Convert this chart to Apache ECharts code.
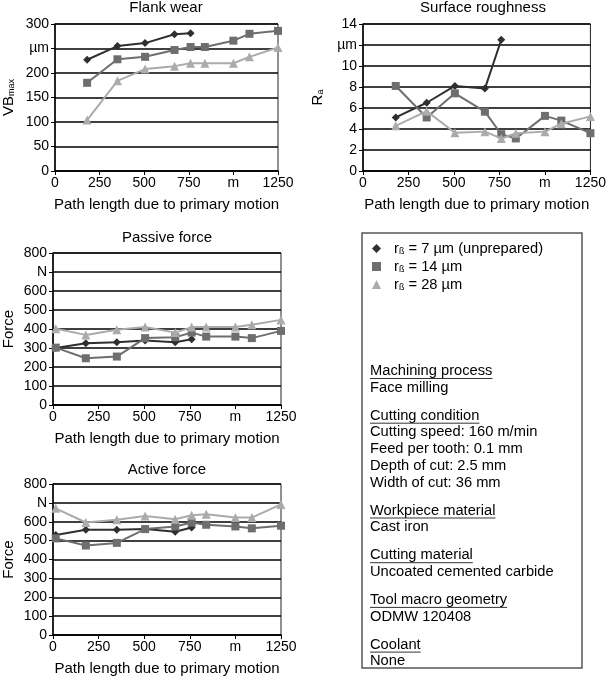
<!DOCTYPE html>
<html>
<head>
<meta charset="utf-8">
<script src="https://cdn.jsdelivr.net/npm/echarts@6/dist/echarts.min.js"></script>
<style>
  html, body { margin: 0; padding: 0; background: #fff; }
  #myChart { width: 609px; height: 677px; }
</style>
</head>
<body>
<div id="myChart"></div>
<script>
// series names (r_ß values) and tick labels
const seriesNames = ['7 µm (unprepared)', '14 µm', '28 µm']
const pathTicks = [0, 250, 500, 750, 'm', 1250]

// path length positions of the measurements
const wearX = [180, 350, 505, 670, 760, 840, 1000, 1090, 1250]
const forceX = [15, 180, 350, 505, 670, 760, 840, 1000, 1090, 1250]

// flank wear VBmax in µm
const flank7 = [227, 255, 261, 279, 281]
const flank14 = [180, 228, 233, 247, 253, 253, 266, 280, 286]
const flank28 = [104, 184, 208, 214, 220, 220, 220, 233, 252]

// surface roughness Ra in µm
const rough7 = [5.1, 6.5, 8.1, 7.85, 12.5]
const rough14 = [8.1, 5.1, 7.4, 5.65, 3.5, 3.1, 5.25, 4.8, 3.6]
const rough28 = [4.3, 5.7, 3.65, 3.75, 3.1, 3.6, 3.75, 4.5, 5.2]

// passive force in N
const passive7 = [300, 325, 330, 340, 330, 346]
const passive14 = [302, 246, 255, 352, 357, 381, 360, 360, 352, 390]
const passive28 = [401, 369, 396, 410, 381, 410, 410, 410, 422, 448]

// active force in N
const active7 = [530, 558, 558, 561, 547, 570]
const active14 = [512, 474, 488, 561, 575, 596, 584, 575, 565, 579]
const active28 = [671, 596, 610, 631, 613, 634, 640, 622, 622, 692]

// text of the info box
const infoBlocks = [
  ['Machining process', 'Face milling'],
  ['Cutting condition', 'Cutting speed: 160 m/min', 'Feed per tooth: 0.1 mm', 'Depth of cut: 2.5 mm', 'Width of cut: 36 mm'],
  ['Workpiece material', 'Cast iron'],
  ['Cutting material', 'Uncoated cemented carbide'],
  ['Tool macro geometry', 'ODMW 120408'],
  ['Coolant', 'None']
]

const FONT = '"Liberation Sans", Arial, sans-serif'
const colors = ['#2f2f2f', '#6e6e6e', '#ababab']
const symbols = ['diamond', 'rect', 'triangle']
const symbolSizes = [8, 8, 9]

const pairs = (xs, ys) => ys.map((y, i) => [xs[i], y])

const myChart = echarts.init(document.getElementById('myChart'))

// panels: grid box, y range and labels
const panels = [
  { grid: { left: 55, top: 24, width: 223, height: 147 }, max: 300, interval: 50, unitAt: 250, unit: 'µm', yName: 'VB{s|max}', nameGap: 39, x: wearX, data: [flank7, flank14, flank28] },
  { grid: { left: 363, top: 24, width: 231, height: 147 }, max: 14, interval: 2, unitAt: 12, unit: 'µm', yName: 'R{s|a}', nameGap: 38, x: wearX, data: [rough7, rough14, rough28] },
  { grid: { left: 53, top: 253, width: 228, height: 152 }, max: 800, interval: 100, unitAt: 700, unit: 'N', yName: 'Force', nameGap: 37, x: forceX, data: [passive7, passive14, passive28] },
  { grid: { left: 53, top: 484, width: 228, height: 153 }, max: 800, interval: 100, unitAt: 700, unit: 'N', yName: 'Force', nameGap: 37, x: forceX, data: [active7, active14, active28] }
]

const titles = [
  { text: 'Flank wear', left: 166, top: 0 },
  { text: 'Surface roughness', left: 483, top: 0 },
  { text: 'Passive force', left: 167, top: 230 },
  { text: 'Active force', left: 167, top: 462 }
].map(t => Object.assign(t, {
  textAlign: 'center', padding: 0,
  textStyle: { fontSize: 15, fontWeight: 'normal', color: '#000', fontFamily: FONT }
}))

const grids = panels.map(p => Object.assign({ show: true, borderColor: '#222', borderWidth: 1 }, p.grid))

const xAxes = panels.map((p, i) => ({
  type: 'value', gridIndex: i, min: 0, max: 1250, interval: 250,
  axisLine: { show: true, onZero: false, lineStyle: { color: '#000', width: 1.5 } },
  axisTick: { show: true, length: 4, lineStyle: { color: '#000' } },
  axisLabel: {
    color: '#000', fontSize: 14, fontFamily: FONT, margin: 5,
    formatter: v => pathTicks[v / 250]
  },
  splitLine: { show: false },
  name: 'Path length due to primary motion', nameLocation: 'middle', nameGap: 26,
  nameTextStyle: { color: '#000', fontSize: 15, fontFamily: FONT }
}))

const yAxes = panels.map((p, i) => ({
  type: 'value', gridIndex: i, min: 0, max: p.max, interval: p.interval,
  axisLine: { show: true, lineStyle: { color: '#000', width: 1.5 } },
  axisTick: { show: true, length: 4, lineStyle: { color: '#000' } },
  axisLabel: {
    color: '#000', fontSize: 14, fontFamily: FONT, margin: 6,
    formatter: v => (v === p.unitAt ? p.unit : v)
  },
  splitLine: { show: true, lineStyle: { color: '#000', width: 1.5 } },
  name: p.yName, nameLocation: 'middle', nameGap: p.nameGap,
  nameTextStyle: {
    color: '#000', fontSize: 15, fontFamily: FONT,
    rich: { s: { fontSize: 9, fontFamily: FONT, color: '#000', verticalAlign: 'bottom' } }
  }
}))

const series = []
panels.forEach((p, i) => {
  p.data.forEach((ys, k) => {
    series.push({
      name: seriesNames[k],
      type: 'line',
      xAxisIndex: i,
      yAxisIndex: i,
      data: pairs(p.x, ys),
      symbol: symbols[k],
      symbolSize: symbolSizes[k],
      lineStyle: { color: colors[k], width: 2 },
      itemStyle: { color: colors[k] },
      z: 3 + k,
      animation: false
    })
  })
})

// info box: frame, texts and underlined headings
const INFO_FONT = '14.7px ' + FONT
const ctx = document.createElement('canvas').getContext('2d')
ctx.font = INFO_FONT
const graphics = [{
  type: 'rect', shape: { x: 362, y: 233, width: 220, height: 435 },
  style: { fill: 'none', stroke: '#555', lineWidth: 1.5 }
}]
let y = 371
infoBlocks.forEach(block => {
  block.forEach((line, j) => {
    graphics.push({
      type: 'text', x: 370, y: y,
      style: { text: line, fill: '#000', font: INFO_FONT, textVerticalAlign: 'middle' }
    })
    if (j === 0) {
      const w = ctx.measureText(line).width
      graphics.push({
        type: 'line', shape: { x1: 370, y1: y + 7.5, x2: 370 + w, y2: y + 7.5 },
        style: { stroke: '#333', lineWidth: 1 }
      })
    }
    y += 16.7
  })
  y += 11.3
})

myChart.setOption({
  animation: false,
  color: colors,
  title: titles,
  legend: {
    orient: 'vertical', left: 367, top: 236,
    itemWidth: 9, itemHeight: 9, itemGap: 3,
    data: seriesNames.map((n, k) => ({ name: n, icon: symbols[k] })),
    formatter: n => '{p|}r{s|ß} = ' + n,
    textStyle: {
      color: '#000', fontSize: 14.7, fontFamily: FONT,
      rich: {
        p: { width: 8 },
        s: { fontSize: 9, fontFamily: FONT, color: '#000', verticalAlign: 'bottom' }
      }
    }
  },
  grid: grids,
  xAxis: xAxes,
  yAxis: yAxes,
  series: series,
  graphic: graphics
})
</script>
</body>
</html>
